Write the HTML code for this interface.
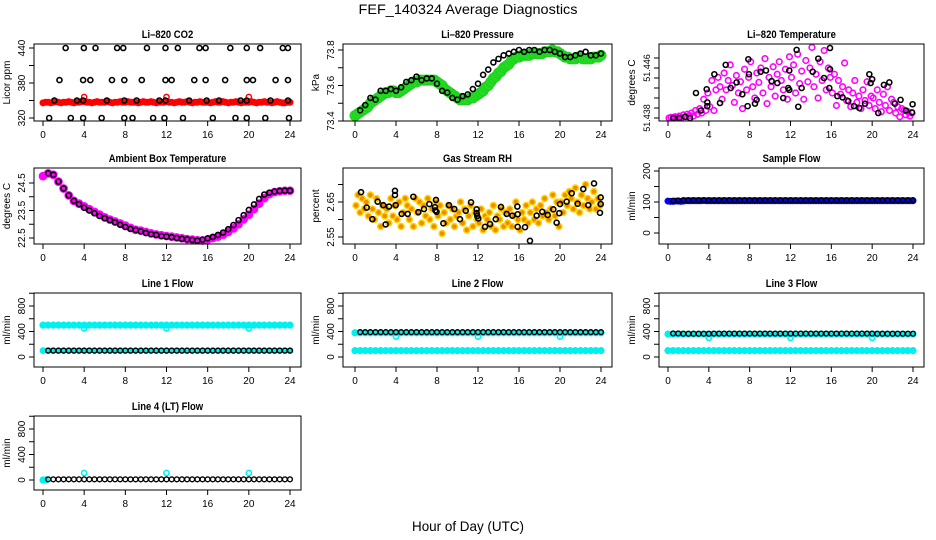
<!DOCTYPE html>
<html><head><meta charset="utf-8">
<style>
html,body{margin:0;padding:0;background:#fff;}
svg{display:block;font-family:"Liberation Sans",sans-serif;}
</style></head>
<body>
<svg id="chart" width="936" height="540" viewBox="0 0 936 540">
<rect width="936" height="540" fill="#fff"/>
<text x="468" y="14" font-size="14" text-anchor="middle" textLength="219" lengthAdjust="spacingAndGlyphs">FEF_140324  Average Diagnostics</text>
<text x="468" y="531" font-size="14" text-anchor="middle" textLength="112" lengthAdjust="spacingAndGlyphs">Hour of Day (UTC)</text>
</svg>
<script>
// ---------- data ----------
const xTicks = [0,4,8,12,16,20,24];
// CO2
const co2TopHours=[2.2,3.97,5.1,7.2,7.8,10.1,11.9,13.1,15.2,15.8,18.2,19.8,21.1,23.3,23.8];
const co2MidHours=[1.6,3.9,4.6,6.7,7.9,9.6,11.9,12.5,14.7,15.8,17.7,19.8,20.4,22.6,23.8];
const co2LowHours=[1.1,3.3,3.9,6.2,7.9,9.1,11.3,11.9,14.2,15.9,17.1,19.2,19.8,22.1,23.8];
const co2BotHours=[0.6,2.7,3.9,5.7,7.9,8.7,10.7,11.8,13.6,16.5,18.7,19.8,21.6,23.9];
const co2Levels=[440,385,350,320];
const co2Red=[346,347,347,346,347,348,347,346,347,347,348,347,346,347,347,348,348,347,347,346,347,348,347,347,347,348,347,346,347,347,348,347,347,348,347,347,347,346,347,348,347,347,348,347,346,347,347,347,348,347,347,346,347,348,347,347,348,347,346,347,347,348,347,347,347,346,347,348,347,347,348,347,346,347,347,348,347,346,347,347,347,348,347,346,347,347,348,347,347,346,347,348,347,346,346,347,347];
const co2RedBumpHours=[4,12,20];
const co2RedBumpValues=[356,356,356];
// Pressure
const presGreen=[73.43,73.44,73.45,73.46,73.47,73.48,73.50,73.51,73.52,73.53,73.54,73.55,73.56,73.56,73.57,73.57,73.56,73.56,73.57,73.58,73.59,73.60,73.61,73.62,73.62,73.63,73.63,73.63,73.63,73.63,73.63,73.63,73.62,73.61,73.60,73.58,73.57,73.56,73.55,73.54,73.53,73.52,73.52,73.52,73.52,73.53,73.53,73.54,73.55,73.56,73.57,73.59,73.60,73.62,73.64,73.65,73.67,73.68,73.70,73.71,73.72,73.74,73.75,73.76,73.76,73.77,73.77,73.77,73.77,73.78,73.78,73.78,73.78,73.78,73.79,73.79,73.79,73.80,73.79,73.79,73.78,73.77,73.76,73.76,73.75,73.75,73.75,73.76,73.76,73.75,73.75,73.75,73.75,73.76,73.76,73.76,73.77];
const presBlack=[73.46,73.49,73.53,73.52,73.57,73.57,73.58,73.57,73.59,73.62,73.63,73.65,73.63,73.64,73.64,73.61,73.57,73.56,73.53,73.52,73.54,73.55,73.58,73.61,73.66,73.69,73.73,73.75,73.77,73.78,73.79,73.80,73.79,73.80,73.80,73.79,73.80,73.80,73.79,73.78,73.76,73.76,73.77,73.78,73.79,73.77,73.77,73.78];
// Li-820 temperature
const tempMagenta=[51.4380,51.4381,51.4380,51.4382,51.4381,51.4383,51.4380,51.4385,51.4382,51.4386,51.4384,51.4388,51.4383,51.4392,51.4386,51.4395,51.4388,51.4410,51.4392,51.4420,51.4398,51.4440,51.4392,51.4425,51.4445,51.4430,51.4410,51.4452,51.4425,51.4440,51.4465,51.4432,51.4405,51.4448,51.4420,51.4438,51.4395,51.4458,51.4425,51.4445,51.4470,51.4430,51.4412,51.4452,51.4437,51.4460,51.4420,51.4475,51.4403,51.4445,51.4430,51.4462,51.4415,51.4450,51.4470,51.4440,51.4425,51.4458,51.4410,51.4478,51.4445,51.4465,51.4420,51.4482,51.4435,51.4455,51.4410,51.4472,51.4438,51.4460,51.4493,51.4430,51.4450,51.4412,51.4470,51.4440,51.4488,51.4425,51.4460,51.4445,51.4420,51.4450,51.4400,51.4440,51.4418,51.4430,51.4468,51.4408,51.4425,51.4398,51.4420,51.4440,51.4405,51.4415,51.4395,51.4425,51.4408,51.4438,51.4400,51.4415,51.4412,51.4395,51.4425,51.4405,51.4390,51.4418,51.4400,51.4430,51.4392,51.4410,51.4405,51.4388,51.4398,51.4382,51.4395,51.4392,51.4385,51.4390,51.4383,51.4388];
const tempBlackHours=[0.52,1.11,1.66,2.15,3.23,3.85,3.85,3.79,2.74,4.54,5.09,5.65,6.14,6.72,7.28,7.8,7.87,7.93,8.52,8.68,9.07,9.6,10.15,10.71,11.29,11.78,11.88,11.88,12.6,12.76,13.09,14.17,14.72,15.28,15.8,15.87,15.87,16.59,17.1,17.66,18.22,18.74,19.3,19.72,19.85,20.0,20.6,21.15,21.68,22.23,22.78,23.3,23.9,23.96];
const tempBlackValues=[51.4380,51.4380,51.4382,51.4380,51.4392,51.4405,51.4399,51.4426,51.4420,51.4450,51.4404,51.4465,51.4428,51.4437,51.4418,51.4399,51.4474,51.4450,51.4403,51.4409,51.4454,51.4456,51.4439,51.4436,51.4412,51.4428,51.4425,51.4456,51.4489,51.4398,51.4428,51.4454,51.4475,51.4444,51.4428,51.4458,51.4492,51.4415,51.4413,51.4407,51.4399,51.4396,51.4403,51.4450,51.4436,51.4442,51.4388,51.4433,51.4437,51.4403,51.4409,51.4392,51.4389,51.4402];
// Ambient box temperature
const ambMagenta=[24.75,24.85,24.80,24.55,24.30,24.05,23.85,23.75,23.65,23.55,23.45,23.35,23.25,23.17,23.10,23.03,22.95,22.87,22.80,22.77,22.72,22.67,22.63,22.60,22.57,22.55,22.52,22.49,22.46,22.44,22.42,22.41,22.44,22.50,22.55,22.62,22.72,22.85,23.00,23.18,23.35,23.55,23.75,23.95,24.10,24.17,24.20,24.22,24.22];
const ambBlack=[24.85,24.80,24.55,24.30,24.05,23.85,23.73,23.60,23.50,23.40,23.30,23.22,23.15,23.07,22.98,22.90,22.83,22.79,22.74,22.68,22.64,22.61,22.57,22.55,22.53,22.50,22.47,22.45,22.43,22.40,22.44,22.49,22.54,22.61,22.70,22.82,22.97,23.15,23.33,23.52,23.72,23.92,24.08,24.15,24.19,24.21,24.22,24.22];
// Gas stream RH
const rhOrange=[2.64,2.67,2.62,2.66,2.63,2.65,2.61,2.67,2.63,2.60,2.66,2.62,2.58,2.64,2.61,2.63,2.59,2.66,2.61,2.64,2.60,2.65,2.58,2.62,2.66,2.64,2.60,2.63,2.58,2.66,2.62,2.65,2.59,2.64,2.61,2.66,2.60,2.63,2.58,2.65,2.61,2.64,2.56,2.62,2.59,2.64,2.60,2.63,2.58,2.61,2.62,2.65,2.59,2.63,2.57,2.61,2.64,2.58,2.62,2.60,2.59,2.63,2.57,2.61,2.60,2.62,2.58,2.64,2.57,2.61,2.60,2.63,2.58,2.62,2.59,2.63,2.58,2.61,2.65,2.60,2.57,2.62,2.60,2.64,2.59,2.62,2.65,2.60,2.63,2.59,2.64,2.61,2.66,2.62,2.60,2.63,2.67,2.61,2.65,2.58,2.65,2.62,2.67,2.64,2.68,2.66,2.63,2.69,2.65,2.62,2.67,2.64,2.70,2.66,2.63,2.65,2.68,2.63,2.66,2.64];
const rhBlackHours=[0.59,1.14,1.69,2.21,2.76,3.32,2.99,3.9,3.9,3.97,4.55,5.14,5.69,6.18,6.73,7.25,7.8,7.84,7.9,7.96,8.62,9.17,9.69,10.24,10.8,11.32,11.87,11.87,11.93,12.03,12.68,13.17,13.73,14.24,14.8,15.35,15.84,15.87,15.87,16.59,17.07,17.72,18.27,18.8,19.35,19.67,19.93,20.0,20.65,21.14,21.72,22.27,22.76,23.32,23.97,23.97,23.9];
const rhBlackValues=[2.678,2.634,2.601,2.651,2.641,2.637,2.586,2.682,2.670,2.641,2.616,2.616,2.665,2.621,2.630,2.644,2.635,2.626,2.656,2.622,2.589,2.641,2.630,2.601,2.625,2.649,2.629,2.618,2.610,2.603,2.579,2.587,2.601,2.636,2.616,2.611,2.637,2.615,2.579,2.578,2.539,2.611,2.622,2.613,2.629,2.591,2.618,2.644,2.651,2.675,2.645,2.687,2.641,2.703,2.663,2.644,2.619];
// Sample flow
const sampleBlue=[103,102,102,103,103,102,103,104,104,104,104,104,104,104,105,104,104,104,104,104,104,104,104,104,104,104,104,104,104,104,104,104,104,104,104,104,104,104,104,104,104,104,104,104,104,104,104,104,104,104,104,104,104,104,104,104,104,104,104,104,104,104,104,104,104,104,104,104,104,104,104,104,104,104,104,104,104,104,104,104,104,104,104,104,104,104,104,104,104,104,104,104,104,104,104,104,104];
const sampleBlack=[104,105,106,106,106,106,106,106,106,106,106,106,106,106,106,106,106,106,106,106,106,106,106,106,106,106,106,106,106,106,106,106,106,106,106,106,106,106,106,106,106,106,106,106,106,106,106,106];
// Line flows (0.5 h steps)
const l1CyanHigh=[500,500,500,500,500,500,500,500,500,500,500,500,500,500,500,500,500,500,500,500,500,500,500,500,500,500,500,500,500,500,500,500,500,500,500,500,500,500,500,500,500,500,500,500,500,500,500,500,500];
const l1CyanLow=[100,100,100,100,100,100,100,100,100,100,100,100,100,100,100,100,100,100,100,100,100,100,100,100,100,100,100,100,100,100,100,100,100,100,100,100,100,100,100,100,100,100,100,100,100,100,100,100,100];
const l1Black=[100,100,100,100,100,100,100,100,100,100,100,100,100,100,100,100,100,100,100,100,100,100,100,100,100,100,100,100,100,100,100,100,100,100,100,100,100,100,100,100,100,100,100,100,100,100,100,100];
const l1DipValues=[450,450,450];
const l2CyanHigh=[380,380,380,380,380,380,380,380,380,380,380,380,380,380,380,380,380,380,380,380,380,380,380,380,380,380,380,380,380,380,380,380,380,380,380,380,380,380,380,380,380,380,380,380,380,380,380,380,380];
const l2CyanLow=[100,100,100,100,100,100,100,100,100,100,100,100,100,100,100,100,100,100,100,100,100,100,100,100,100,100,100,100,100,100,100,100,100,100,100,100,100,100,100,100,100,100,100,100,100,100,100,100,100];
const l2Black=[390,390,390,390,390,390,390,390,390,390,390,390,390,390,390,390,390,390,390,390,390,390,390,390,390,390,390,390,390,390,390,390,390,390,390,390,390,390,390,390,390,390,390,390,390,390,390,390];
const l2DipValues=[320,320,320];
const l3CyanHigh=[360,360,360,360,360,360,360,360,360,360,360,360,360,360,360,360,360,360,360,360,360,360,360,360,360,360,360,360,360,360,360,360,360,360,360,360,360,360,360,360,360,360,360,360,360,360,360,360,360];
const l3CyanLow=[100,100,100,100,100,100,100,100,100,100,100,100,100,100,100,100,100,100,100,100,100,100,100,100,100,100,100,100,100,100,100,100,100,100,100,100,100,100,100,100,100,100,100,100,100,100,100,100,100];
const l3Black=[370,370,365,365,365,365,365,365,368,368,368,368,368,368,368,368,368,368,368,368,368,368,368,368,368,368,368,368,368,368,368,368,368,368,368,368,368,368,368,368,365,365,365,365,365,365,365,365];
const l3DipValues=[300,300,300];
const l4CyanStart=[0,0];
const l4Black=[10,10,10,10,10,10,10,10,10,10,10,10,10,10,10,10,10,10,10,10,10,10,10,10,10,10,10,10,10,10,10,10,10,10,10,10,10,10,10,10,10,10,10,10,10,10,10,10];
const l4SpikeValues=[110,110,110];
const dipHours=[4,12,20];

// ---------- drawing ----------
const NS='http://www.w3.org/2000/svg';
const svg=document.getElementById('chart');
function mk(tag,attrs,parent){const e=document.createElementNS(NS,tag);for(const k in attrs)e.setAttribute(k,attrs[k]);(parent||svg).appendChild(e);return e;}

const cols=[{h0:43,h24:290,L:34,R:301},{h0:355,h24:601,L:343,R:612},{h0:668,h24:913,L:659,R:924}];
const rows=[{T:44,B:121},{T:168,B:244},{T:293,B:367},{T:416,B:490}];

function panel(name,title,ylab,c,r,v0,p0,v1,p1,ticks,tickFont){
  const col=cols[c],row=rows[r];
  const g=mk('g',{});
  
  
  const xs=h=>col.h0+(h/24)*(col.h24-col.h0);
  const ys=v=>p0+(v-v0)*(p1-p0)/(v1-v0);
  const marks=mk('g',{},g);
  
  
  const box=mk('rect',{x:col.L,y:row.T,width:col.R-col.L,height:row.B-row.T,fill:'none',stroke:'#000','stroke-width':1},g);
  
  
  const t=mk('text',{x:(col.L+col.R)/2,y:row.T-6,'font-size':11,'font-weight':'bold','text-anchor':'middle'},g);
  t.textContent=title;
  
  
  const w=t.getComputedTextLength();
  t.setAttribute('textLength',(w*0.86).toFixed(1));
  t.setAttribute('lengthAdjust','spacingAndGlyphs');
  const yt=mk('text',{x:0,y:0,'font-size':10,'text-anchor':'middle',transform:`translate(${col.L-24},${(row.T+row.B)/2}) rotate(-90)`},g);
  yt.textContent=ylab;
  
  
  xTicks.forEach(h=>{
    const x=xs(h);
    const tk=mk('line',{x1:x,x2:x,y1:row.B,y2:row.B+5,stroke:'#000'},g);
    
    
    const tl=mk('text',{x:x,y:row.B+17,'font-size':10,'text-anchor':'middle'},g);
    tl.textContent=h;
    
    
  });
  ticks.forEach(tk=>{
    const y=ys(tk[0]);
    const l=mk('line',{x1:col.L-5,x2:col.L,y1:y,y2:y,stroke:'#000'},g);
    
    
    if(tk[1]){
      const tl=mk('text',{x:0,y:0,'font-size':tickFont||10,'text-anchor':'middle',transform:`translate(${col.L-9},${y}) rotate(-90)`},g);
      tl.textContent=tk[1];
      
      
    }
  });
  return {xs,ys,g:marks};
}
function pts(P,hours,vals,r,stroke,fill,sw,nm){
  vals.forEach((v,i)=>{
    const c=mk('circle',{cx:P.xs(hours[i]),cy:P.ys(v),r:r,stroke:stroke,fill:fill,'stroke-width':sw},P.g);
    
    
  });
}
const stepHours=(n,step,start)=>{const a=[];for(let i=0;i<n;i++)a.push(start+i*step);return a;};
const BR=2.5, BW=1.6;

// CO2
let P=panel('co2-panel','Li\u2013820 CO2','Licor ppm',0,0,320,118,440,48,[[320,'320'],[350,''],[380,'380'],[410,''],[440,'440']]);
pts(P,stepHours(co2Red.length,0.25,0),co2Red,3,'#f00','#f00',1,'co2-red-point');
pts(P,co2RedBumpHours,co2RedBumpValues,2.6,'#f00','none',1.5,'co2-red-bump');
[co2TopHours,co2MidHours,co2LowHours,co2BotHours].forEach((hs,k)=>{
  pts(P,hs,hs.map(()=>co2Levels[k]),BR,'#000','none',BW,'co2-black-point');
});
// Pressure
P=panel('pressure-panel','Li\u2013820 Pressure','kPa',1,0,73.4,121,73.8,50,[[73.4,'73.4'],[73.5,''],[73.6,'73.6'],[73.7,''],[73.8,'73.8']]);
pts(P,stepHours(presGreen.length,0.25,0),presGreen,5,'#1ed01e','#22dd22',1,'pressure-green-point');
pts(P,stepHours(presBlack.length,0.5,0.5),presBlack,BR,'#000','none',BW,'pressure-black-point');
// Li-820 temperature
P=panel('temperature-panel','Li\u2013820 Temperature','degrees C',2,0,51.438,118,51.446,68,[[51.438,'51.438'],[51.4396,''],[51.4412,''],[51.4428,''],[51.4444,''],[51.446,'51.446'],[51.4476,'']],9);
pts(P,stepHours(tempMagenta.length,0.2,0.1),tempMagenta,2.8,'#f0f','none',1.6,'temperature-magenta-point');
pts(P,tempBlackHours,tempBlackValues,BR,'#000','none',BW,'temperature-black-point');
// Ambient
P=panel('ambient-temperature-panel','Ambient Box Temperature','degrees C',0,1,22.5,238,24.5,183,[[22.5,'22.5'],[23,''],[23.5,'23.5'],[24,''],[24.5,'24.5']]);
pts(P,stepHours(ambMagenta.length,0.5,0),ambMagenta,3.6,'#f0f','#f0f',1.5,'ambient-magenta-point');
pts(P,stepHours(ambBlack.length,0.5,0.5),ambBlack,BR,'#000','none',BW,'ambient-black-point');
// RH
P=panel('gas-rh-panel','Gas Stream RH','percent',1,1,2.55,237,2.65,202,[[2.55,'2.55'],[2.6,''],[2.65,'2.65'],[2.7,'']]);
pts(P,stepHours(rhOrange.length,0.2,0.1),rhOrange,3,'#ffd400','#f08a00',1.5,'rh-orange-point');
pts(P,rhBlackHours,rhBlackValues,BR,'#000','none',BW,'rh-black-point');
// Sample flow
P=panel('sample-flow-panel','Sample Flow','ml/min',2,1,0,233,200,171,[[0,'0'],[50,''],[100,'100'],[150,''],[200,'200']]);
pts(P,stepHours(sampleBlue.length,0.25,0),sampleBlue,3,'#0000ee','#0000ee',1,'sample-blue-point');
pts(P,stepHours(sampleBlack.length,0.5,0.5),sampleBlack,2.4,'#000','none',1.4,'sample-black-point');
// Line flows
const flowTicks=[[0,'0'],[200,''],[400,'400'],[600,''],[800,'800'],[1000,'']];
const CY='#00f0f0';
P=panel('line1-flow-panel','Line 1 Flow','ml/min',0,2,0,357,800,306,flowTicks);
pts(P,stepHours(l1CyanHigh.length,0.5,0),l1CyanHigh,3,CY,CY,1.2,'line1-cyan-high');
pts(P,dipHours,l1DipValues,2.6,CY,'none',1.6,'line1-cyan-dip');
pts(P,stepHours(l1CyanLow.length,0.5,0),l1CyanLow,2.8,CY,CY,1.2,'line1-cyan-low');
pts(P,stepHours(l1Black.length,0.5,0.5),l1Black,2.4,'#000','none',1.4,'line1-black-point');
P=panel('line2-flow-panel','Line 2 Flow','ml/min',1,2,0,357,800,306,flowTicks);
pts(P,stepHours(l2CyanHigh.length,0.5,0),l2CyanHigh,3,CY,CY,1.2,'line2-cyan-high');
pts(P,dipHours,l2DipValues,2.6,CY,'none',1.6,'line2-cyan-dip');
pts(P,stepHours(l2CyanLow.length,0.5,0),l2CyanLow,3,CY,CY,1.2,'line2-cyan-low');
pts(P,stepHours(l2Black.length,0.5,0.5),l2Black,2.4,'#000','none',1.4,'line2-black-point');
P=panel('line3-flow-panel','Line 3 Flow','ml/min',2,2,0,357,800,306,flowTicks);
pts(P,stepHours(l3CyanHigh.length,0.5,0),l3CyanHigh,3,CY,CY,1.2,'line3-cyan-high');
pts(P,dipHours,l3DipValues,2.6,CY,'none',1.6,'line3-cyan-dip');
pts(P,stepHours(l3CyanLow.length,0.5,0),l3CyanLow,3,CY,CY,1.2,'line3-cyan-low');
pts(P,stepHours(l3Black.length,0.5,0.5),l3Black,2.4,'#000','none',1.4,'line3-black-point');
P=panel('line4-flow-panel','Line 4 (LT) Flow','ml/min',0,3,0,480,800,429,flowTicks);
pts(P,stepHours(l4CyanStart.length,0.25,0),l4CyanStart,3,CY,CY,1.2,'line4-cyan-start');
pts(P,dipHours,l4SpikeValues,2.6,CY,'none',1.6,'line4-cyan-spike');
pts(P,stepHours(l4Black.length,0.5,0.5),l4Black,2.4,'#000','none',1.4,'line4-black-point');
</script>
</body></html>
